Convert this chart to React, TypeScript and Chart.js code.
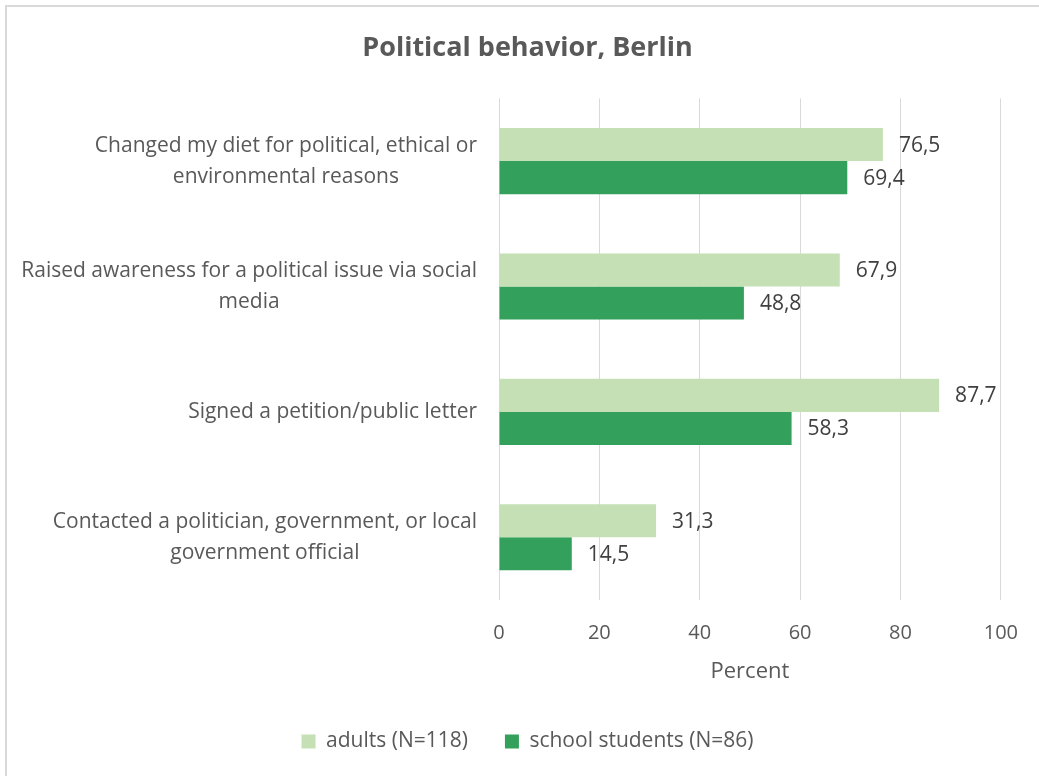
import React, { useEffect, useRef } from 'react';
import { Chart, registerables } from 'chart.js';

Chart.register(...registerables);

const chartTitle = 'Political behavior, Berlin';
const categories: string[][] = [
  ['Changed my diet for political, ethical or', 'environmental reasons'],
  ['Raised awareness for a political issue via social', 'media'],
  ['Signed a petition/public letter'],
  ['Contacted a politician, government, or local', 'government official'],
];
const seriesNames = ['adults (N=118)', 'school students (N=86)'];
const adults = [76.5, 67.9, 87.7, 31.3];
const students = [69.4, 48.8, 58.3, 14.5];
const xAxisTitle = 'Percent';
const xMin = 0;
const xMax = 100;
const xStep = 20;

const FONT = '"Open Sans", "DejaVu Sans", sans-serif';
const LIGHT = '#C5E0B4';
const DARK = '#33A05B';
const TEXT = '#595959';
const LABEL = '#404040';

const fmt = (v: number) => v.toFixed(1).replace('.', ',');

const frame = {
  id: 'frame',
  beforeDraw(chart: any) {
    const ctx = chart.ctx;
    ctx.save();
    ctx.fillStyle = '#ffffff';
    ctx.fillRect(0, 0, chart.width, chart.height);
    ctx.strokeStyle = '#D9D9D9';
    ctx.lineWidth = 2;
    ctx.strokeRect(6, 6, chart.width + 40, chart.height + 40);
    ctx.restore();
  },
};

const categoryLabels = {
  id: 'categoryLabels',
  afterDraw(chart: any) {
    const ctx = chart.ctx;
    const y = chart.scales.y;
    const right = chart.chartArea.left - 22;
    ctx.save();
    ctx.font = `21px ${FONT}`;
    ctx.fillStyle = TEXT;
    ctx.textAlign = 'center';
    ctx.textBaseline = 'middle';
    const lh = 31;
    categories.forEach((lines, i) => {
      const cy = y.getPixelForValue(i);
      const w = Math.max(...lines.map((l) => ctx.measureText(l).width));
      const cx = right - w / 2;
      lines.forEach((l, j) => {
        ctx.fillText(l, cx, cy + (j - (lines.length - 1) / 2) * lh);
      });
    });
    ctx.restore();
  },
};

const valueLabels = {
  id: 'valueLabels',
  afterDatasetsDraw(chart: any) {
    const ctx = chart.ctx;
    ctx.save();
    ctx.font = `21px ${FONT}`;
    ctx.fillStyle = LABEL;
    ctx.textAlign = 'left';
    ctx.textBaseline = 'middle';
    chart.data.datasets.forEach((ds: any, di: number) => {
      const meta = chart.getDatasetMeta(di);
      meta.data.forEach((el: any, i: number) => {
        ctx.fillText(fmt(ds.data[i]), el.x + 16, el.y + 1);
      });
    });
    ctx.restore();
  },
};

export default function App() {
  const ref = useRef<HTMLCanvasElement | null>(null);
  useEffect(() => {
    if (!ref.current) return;
    const chart = new Chart(ref.current, {
      type: 'bar',
      data: {
        labels: categories.map((c) => c.join(' ')),
        datasets: [
          {
            label: seriesNames[0],
            data: adults,
            backgroundColor: LIGHT,
            borderWidth: 0,
            categoryPercentage: 0.527,
            barPercentage: 1,
          },
          {
            label: seriesNames[1],
            data: students,
            backgroundColor: DARK,
            borderWidth: 0,
            categoryPercentage: 0.527,
            barPercentage: 1,
          },
        ],
      },
      options: {
        indexAxis: 'y',
        responsive: false,
        animation: false,
        layout: { padding: { left: 16, right: 0, top: 0, bottom: 14 } },
        font: { family: FONT },
        scales: {
          x: {
            min: xMin,
            max: xMax,
            ticks: { stepSize: xStep, color: TEXT, font: { family: FONT, size: 20 }, padding: 21 },
            grid: { color: '#D9D9D9', lineWidth: 1, drawTicks: false },
            border: { display: false },
            title: {
              display: true,
              text: xAxisTitle,
              color: TEXT,
              font: { family: FONT, size: 22 },
              padding: { top: 0, bottom: 9 },
            },
            afterFit: (s: any) => {
              s.height = 94;
            },
          },
          y: {
            ticks: { display: false },
            grid: { display: false },
            border: { display: false },
            afterFit: (s: any) => {
              s.width = 483;
            },
          },
          y2: {
            type: 'linear',
            position: 'right',
            ticks: { display: false },
            grid: { display: false },
            border: { display: false },
            afterFit: (s: any) => {
              s.width = 38;
            },
          },
        },
        plugins: {
          title: {
            display: true,
            text: chartTitle,
            color: TEXT,
            font: { family: FONT, size: 27, weight: 'bold' },
            padding: { top: 32, bottom: 34 },
          },
          legend: {
            position: 'bottom',
            labels: {
              boxWidth: 14,
              boxHeight: 14,
              color: TEXT,
              font: { family: FONT, size: 21 },
              padding: 37,
            },
          },
          tooltip: { enabled: false },
        },
      } as any,
      plugins: [frame, categoryLabels, valueLabels],
    });
    return () => chart.destroy();
  }, []);
  return (
    <canvas
      ref={ref}
      width={1039}
      height={776}
      style={{ position: 'fixed', left: 0, top: 0, display: 'block' }}
    />
  );
}
